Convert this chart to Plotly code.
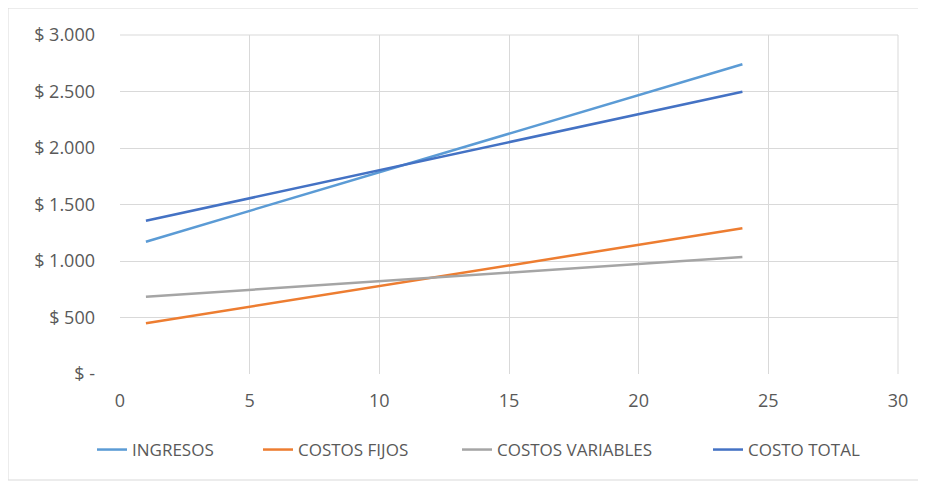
import plotly.graph_objects as go

# Data
x_vals = [1, 24]
ingresos = [1171, 2741]
costos_fijos = [449, 1289]
costos_variables = [684, 1035]
costo_total = [1357, 2498]

series_names = ["INGRESOS", "COSTOS FIJOS", "COSTOS VARIABLES", "COSTO TOTAL"]
series_values = [ingresos, costos_fijos, costos_variables, costo_total]
colors = ["#5B9BD5", "#ED7D31", "#A5A5A5", "#4472C4"]

y_tickvals = [0, 500, 1000, 1500, 2000, 2500, 3000]
y_ticktext = ["$ -", "$ 500", "$ 1.000", "$ 1.500", "$ 2.000", "$ 2.500", "$ 3.000"]
x_tickvals = [0, 5, 10, 15, 20, 25, 30]

FONT = "Open Sans, sans-serif"
TXT = "#595959"

# page body has an 8px margin; target plot area in window px: x 120..898, y 35..374
OFF = 8
W, H = 926 - OFF, 482 - OFF
PL, PR, PT, PB = 120, 898, 35, 374
ml, mr, mt, mb = PL - OFF, (W + OFF) - PR, PT - OFF, (H + OFF) - PB
pw, ph = PR - PL, PB - PT

def px_x(p):
    return (p - PL) / pw

def px_y(p):
    return (PB - p) / ph

legend_ids = ["legend", "legend2", "legend3", "legend4"]
legend_text_x = [132, 298, 497, 748]  # window px where legend texts start

fig = go.Figure()
for name, vals, col, lid in zip(series_names, series_values, colors, legend_ids):
    fig.add_trace(go.Scatter(x=x_vals, y=vals, mode="lines", name=name,
                             legend=lid, line=dict(color=col, width=2.5)))

legends = {}
for lid, tx in zip(legend_ids, legend_text_x):
    legends[lid] = dict(orientation="h", x=px_x(tx - 40), xanchor="left",
                        y=px_y(450), yanchor="middle",
                        font=dict(family=FONT, size=17, color=TXT),
                        bgcolor="rgba(0,0,0,0)")

fig.update_layout(
    width=W, height=H,
    margin=dict(l=ml, r=mr, t=mt, b=mb),
    paper_bgcolor="white", plot_bgcolor="white",
    font=dict(family=FONT, size=17, color=TXT),
    showlegend=True,
    xaxis=dict(range=[0, 30], tickvals=x_tickvals, showgrid=True,
               gridcolor="#D9D9D9", gridwidth=1, zeroline=False,
               showline=False, ticks="", ticklabelstandoff=14,
               tickfont=dict(color=TXT, size=18)),
    yaxis=dict(range=[0, 3000], tickvals=y_tickvals, ticktext=y_ticktext,
               showgrid=True, gridcolor="#D9D9D9", gridwidth=1, zeroline=False,
               showline=False, ticks="", ticklabelstandoff=24,
               tickfont=dict(color=TXT, size=18)),
    shapes=[
        dict(type="rect", xref="paper", yref="paper",
             x0=px_x(8), x1=px_x(924), y0=px_y(480), y1=px_y(8),
             line=dict(color="#D9D9D9", width=1), fillcolor="rgba(0,0,0,0)",
             layer="below"),
        dict(type="line", xref="paper", yref="paper",
             x0=0, x1=1, y0=1, y1=1, line=dict(color="#D9D9D9", width=1)),
        dict(type="line", xref="paper", yref="paper",
             x0=1, x1=1, y0=0, y1=1, line=dict(color="#D9D9D9", width=1)),
    ],
    **legends,
)

fig.write_html("out.html")
